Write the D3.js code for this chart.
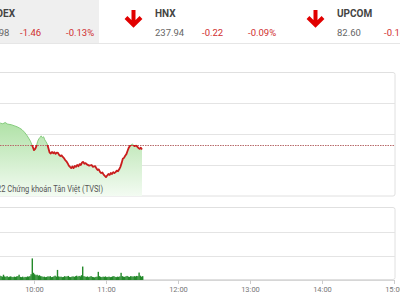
<!DOCTYPE html>
<html>
<head>
<meta charset="utf-8">
<script src="https://cdn.jsdelivr.net/npm/d3@7"></script>
<style>
  body { margin: 0; background: #fff; }
  svg { display: block; font-family: Roboto, "Noto Sans", sans-serif; }
</style>
</head>
<body>
<div id="chart"></div>
<script>
// Header quotes
const indexNames = ["VNINDEX", "HNX", "UPCOM"];
const indexValues = ["1,124.98", "237.94", "82.60"];
const indexChanges = ["-1.46", "-0.22", "-0.16"];
const indexPercents = ["-0.13%", "-0.09%", "-0.19%"];

// Intraday VNINDEX (reference = previous close)
const refPrice = 1126.44;
const priceTimes = ["09:15","09:18","09:21","09:24","09:27","09:30","09:32","09:34","09:36","09:38",
  "09:41","09:44","09:46","09:48","09:50","09:52","09:54","09:55","09:57","09:59",
  "10:00","10:01","10:02","10:03","10:04","10:05","10:06","10:07","10:08","10:09",
  "10:10","10:11","10:12","10:13","10:14","10:15","10:16","10:17","10:18","10:19",
  "10:20","10:21","10:22","10:23","10:24","10:25","10:26","10:27","10:28","10:29",
  "10:30","10:31","10:32","10:33","10:34","10:35","10:36","10:37","10:38","10:39",
  "10:40","10:41","10:42","10:43","10:44","10:46","10:48","10:49","10:51","10:52",
  "10:53","10:54","10:55","10:56","10:57","10:58","10:59","11:00","11:01","11:02",
  "11:03","11:04","11:05","11:06","11:07","11:08","11:09","11:10","11:11","11:12",
  "11:13","11:14","11:15","11:16","11:17","11:18","11:19","11:20","11:21","11:22",
  "11:23","11:24","11:25","11:26","11:27","11:28","11:29","11:30"];
const priceValues = [1126.4,1128.0,1129.6,1131.0,1132.3,1133.2,1133.5,1133.3,1133.7,1133.2,
  1133.0,1132.6,1132.3,1131.9,1131.4,1130.6,1129.6,1129.0,1127.7,1125.8,
  1124.8,1125.2,1126.1,1127.6,1128.4,1128.9,1129.4,1128.8,1129.1,1128.1,
  1127.5,1126.8,1125.4,1124.0,1123.7,1124.2,1123.8,1124.1,1123.6,1124.0,
  1123.9,1123.2,1122.9,1123.1,1122.6,1122.2,1121.6,1121.2,1120.6,1119.8,
  1119.4,1119.0,1119.5,1119.0,1119.7,1119.4,1120.0,1119.6,1120.3,1120.0,
  1120.8,1121.0,1120.4,1120.6,1120.2,1119.8,1120.0,1119.4,1119.6,1118.9,
  1118.4,1118.6,1117.8,1117.4,1117.6,1116.9,1116.5,1116.1,1116.6,1117.1,
  1116.8,1117.4,1117.1,1117.7,1117.4,1117.7,1118.2,1118.0,1118.6,1119.4,
  1120.6,1122.0,1122.3,1123.0,1123.5,1124.6,1125.6,1126.2,1126.5,1126.8,
  1126.3,1126.1,1126.5,1125.9,1125.5,1125.2,1125.6,1125.0];

// Per-minute volume from 09:15 to 11:30
const volumeStart = "09:15";
const volumeValues = [30,8,6,5,4,4,3,3,3,2.5,2.5,2,2,2,2,1.8,1.8,
  1.6,1.4,2.2,1.5,1.3,1.6,1.2,1.4,1.5,1.3,
  1.2,1.4,1.3,1.5,1.6,2.2,1.3,1.2,1.4,1.1,
  1.3,1.2,1.5,1.4,1.6,2.4,9.0,3.0,2.4,2.0,
  2.2,1.8,2.0,1.6,1.5,1.3,1.4,1.2,1.3,1.5,
  1.4,1.6,1.2,1.3,1.5,1.8,1.4,4.2,1.5,1.3,
  1.4,1.2,1.3,1.6,1.4,1.5,1.7,1.3,1.2,1.4,
  1.5,1.3,1.6,1.8,1.4,1.7,1.5,2.0,5.6,1.6,
  1.4,1.3,1.5,1.2,1.4,1.6,1.3,1.2,1.1,1.3,
  1.4,3.4,1.6,1.3,1.2,1.4,1.3,1.5,1.2,1.3,
  1.4,1.2,1.3,1.5,1.6,1.3,1.2,1.4,1.3,1.5,
  3.0,1.6,1.4,1.3,1.5,1.7,1.4,1.3,1.6,1.5,
  1.4,1.6,1.5,1.7,1.6,3.1,1.8,1.4,1.6];

const timeTicks = ["09:00","10:00","11:00","12:00","13:00","14:00","15:00"];
const priceTicks = [1120, 1130, 1140];
const volumeTicks = [10, 20];
const copyright = "© 2022 Chứng khoán Tân Việt (TVSI)";

const toMin = s => { const [h, m] = s.split(":").map(Number); return h * 60 + m; };

const w = 400, h = 300;
const svg = d3.select("#chart").append("svg").attr("width", w).attr("height", h);

// ---- header ----
svg.append("rect").attr("x", 0).attr("y", 0).attr("width", 99).attr("height", 43).attr("fill", "#efefef");
svg.append("line").attr("x1", 0).attr("x2", w).attr("y1", 43.5).attr("y2", 43.5).attr("stroke", "#e6e6e6");

const blockX = [-27, 155, 337];
indexNames.forEach((name, i) => {
  const bx = blockX[i];
  const g = svg.append("g").attr("transform", `translate(${bx},0)`);
  g.append("text").attr("x", 0).attr("y", 17).attr("font-size", 10).attr("font-weight", "bold")
    .attr("fill", "#444").text(name);
  g.append("text").attr("x", 0).attr("y", 36).attr("font-size", 9.5).attr("fill", "#666").text(indexValues[i]);
  g.append("text").attr("x", 47).attr("y", 36).attr("font-size", 9.5).attr("fill", "#d0302f").text(indexChanges[i]);
  g.append("text").attr("x", 93).attr("y", 36).attr("font-size", 9.5).attr("fill", "#d0302f").text(indexPercents[i]);
  // red down arrow
  g.append("path").attr("d", "M-21.5,10 L-21.5,24 M-29,17.5 L-21.5,25 L-14,17.5")
    .attr("fill", "none").attr("stroke", "#e10000").attr("stroke-width", 4)
    .attr("stroke-linejoin", "miter");
});

// ---- scales ----
const x = d3.scaleLinear().domain([toMin("09:00"), toMin("15:00")]).range([-38, 394]);
const y = d3.scaleLinear().domain([1110, 1150]).range([196, 72]);
const yv = d3.scaleLinear().domain([0, 30]).range([280, 208]);

const prices = priceTimes.map((t, i) => ({ t: toMin(t), v: priceValues[i] }));
const vols = volumeValues.map((v, i) => ({ t: toMin(volumeStart) + i, v }));

// ---- price panel ----
const defs = svg.append("defs");
const grad = defs.append("linearGradient").attr("id", "areaGrad")
  .attr("gradientUnits", "userSpaceOnUse").attr("x1", 0).attr("x2", 0).attr("y1", 115).attr("y2", 196);
grad.append("stop").attr("offset", 0).attr("stop-color", "#a9df9f");
grad.append("stop").attr("offset", 1).attr("stop-color", "#f3fbf2");

defs.append("clipPath").attr("id", "above").append("rect")
  .attr("x", -50).attr("y", 0).attr("width", 500).attr("height", y(refPrice));
defs.append("clipPath").attr("id", "below").append("rect")
  .attr("x", -50).attr("y", y(refPrice)).attr("width", 500).attr("height", 200);

svg.append("rect").attr("x", -40).attr("y", 72.5).attr("width", 435).attr("height", 123.5)
  .attr("fill", "none").attr("stroke", "#e0e0e0").attr("rx", 2);

svg.append("g").selectAll("line").data(priceTicks).join("line")
  .attr("x1", -40).attr("x2", 395).attr("y1", d => Math.round(y(d)) + 0.5).attr("y2", d => Math.round(y(d)) + 0.5)
  .attr("stroke", "#e4e4e4");

svg.append("path").datum(prices)
  .attr("fill", "url(#areaGrad)")
  .attr("d", d3.area().x(d => x(d.t)).y0(196).y1(d => y(d.v)));

svg.append("line").attr("x1", -40).attr("x2", 395)
  .attr("y1", Math.round(y(refPrice)) + 0.5).attr("y2", Math.round(y(refPrice)) + 0.5)
  .attr("stroke", "#b86a6a").attr("stroke-dasharray", "1.5,1");

const line = d3.line().x(d => x(d.t)).y(d => y(d.v));
svg.append("path").datum(prices).attr("clip-path", "url(#above)")
  .attr("fill", "none").attr("stroke", "#86cc7e").attr("stroke-width", 1).attr("d", line);
svg.append("path").datum(prices).attr("clip-path", "url(#below)")
  .attr("fill", "none").attr("stroke", "#c91d1d").attr("stroke-width", 1.8)
  .attr("stroke-linejoin", "round").attr("d", line);

// copyright, slightly condensed like the original
svg.append("text").attr("x", -19).attr("y", 192)
  .attr("font-size", 8.6).attr("fill", "#555")
  .attr("textLength", 122).attr("lengthAdjust", "spacingAndGlyphs")
  .text(copyright);

// ---- volume panel ----
svg.append("rect").attr("x", -40).attr("y", 207.5).attr("width", 435).attr("height", 72)
  .attr("fill", "none").attr("stroke", "#e0e0e0").attr("rx", 2);

svg.append("g").selectAll("line").data(volumeTicks).join("line")
  .attr("x1", -40).attr("x2", 395).attr("y1", d => Math.round(yv(d)) + 0.5).attr("y2", d => Math.round(yv(d)) + 0.5)
  .attr("stroke", "#e4e4e4");

svg.append("g").selectAll("rect").data(vols).join("rect")
  .attr("x", d => x(d.t)).attr("width", x(1) - x(0) + 0.2)
  .attr("y", d => yv(d.v)).attr("height", d => yv(0) - yv(d.v))
  .attr("fill", "#23892a");

const xAxis = d3.axisBottom(x)
  .tickValues(timeTicks.map(toMin))
  .tickFormat((d, i) => timeTicks[i])
  .tickSize(4).tickPadding(3);
const ax = svg.append("g").attr("transform", "translate(0,280)").call(xAxis);
ax.select(".domain").attr("stroke", "#d6d6d6");
ax.selectAll(".tick line").attr("stroke", "#ccc");
ax.selectAll(".tick text").attr("fill", "#777").attr("font-size", 7.5)
  .attr("font-family", "Roboto, sans-serif");
</script>
</body>
</html>
